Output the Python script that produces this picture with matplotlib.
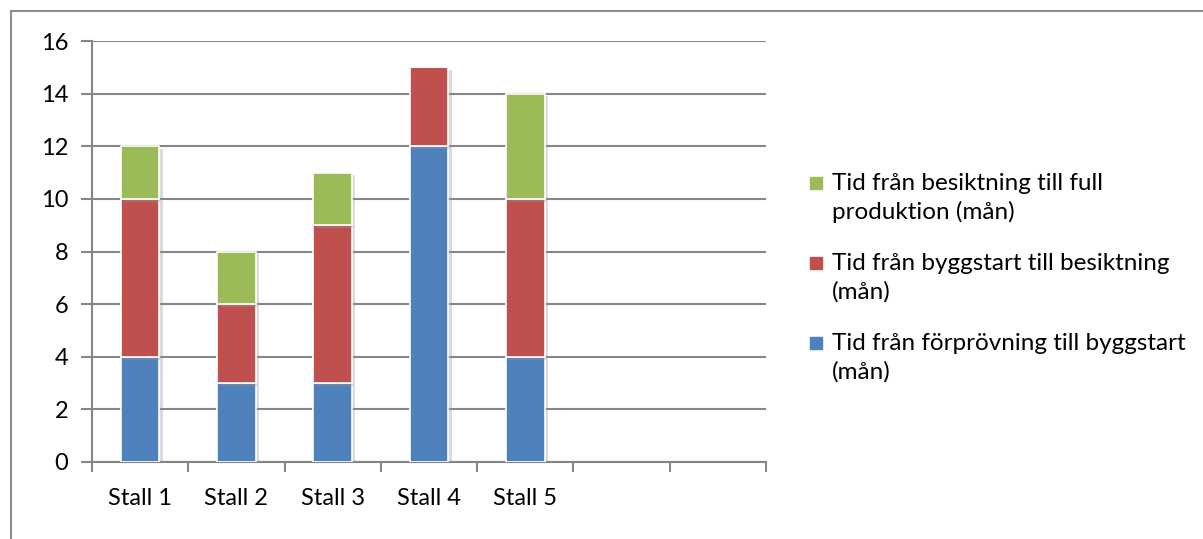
import matplotlib
matplotlib.use('Agg')
import matplotlib.pyplot as plt
import matplotlib.patheffects as pe
from matplotlib.lines import Line2D
from matplotlib.patches import Rectangle
import numpy as np

plt.rcParams['font.family'] = ['Lato', 'DejaVu Sans']

# data
stalls = ['Stall 1', 'Stall 2', 'Stall 3', 'Stall 4', 'Stall 5']
n_slots = 7  # two empty categories after the five stalls
forprovning = [4, 3, 3, 12, 4]
byggstart = [6, 3, 6, 3, 6]
besiktning = [2, 2, 2, 0, 4]

labels = ['Tid från förprövning till byggstart\n(mån)',
          'Tid från byggstart till besiktning\n(mån)',
          'Tid från besiktning till full\nproduktion (mån)']
colors = ['#4F81BD', '#C0504D', '#9BBB59']
grid_col = '#868686'

W, H = 1203, 539
fig = plt.figure(figsize=(W / 100, H / 100), dpi=100)
ax = fig.add_axes([92 / W, 1 - 462 / H, 674 / W, 421 / H])

x = np.arange(len(stalls))
shadow = [pe.withSimplePatchShadow(offset=(2.5, -2), shadow_rgbFace='#999999', alpha=0.35)]
bottom = np.zeros(len(stalls))
for vals, col in zip([forprovning, byggstart, besiktning], colors):
    vals = np.array(vals, dtype=float)
    ax.bar(x, vals, width=0.4, bottom=bottom, color=col, edgecolor='white',
           linewidth=1.2, zorder=3, path_effects=shadow)
    bottom += vals

# axes
ax.set_xlim(-0.5, n_slots - 0.5)
ax.set_ylim(0, 16)
ax.set_yticks(range(0, 17, 2))
ax.yaxis.grid(True, color=grid_col, linewidth=1.5, zorder=0)
ax.set_axisbelow(True)

ax.set_xticks(np.arange(-0.5, n_slots, 1.0))
ax.set_xticklabels([])
ax.set_xticks(x, minor=True)
ax.set_xticklabels(stalls, minor=True)
ax.tick_params(axis='x', which='major', length=7, width=1.5, color=grid_col)
ax.tick_params(axis='x', which='minor', length=0, pad=18.5, labelsize=17)
ax.tick_params(axis='y', length=8, width=1.5, color=grid_col, pad=9, labelsize=17)

for side in ['top', 'right']:
    ax.spines[side].set_visible(False)
for side in ['left', 'bottom']:
    ax.spines[side].set_color(grid_col)
    ax.spines[side].set_linewidth(1.5)

# legend drawn by hand so the swatch sits next to the first text line
# (baseline alignment of a two-line text goes by its last line)
for i, (lab, col) in enumerate(zip(labels[::-1], colors[::-1])):
    base = 192 + 80 * i
    fig.text(832 / W, 1 - (base + 27) / H, lab, va='baseline', ha='left',
             fontsize=17.5, linespacing=1.4)
    fig.add_artist(Rectangle((810 / W, 1 - (base - 3) / H), 12 / W, 12 / H,
                             transform=fig.transFigure, color=col))

# outer frame
fig.add_artist(Line2D([10.5 / W, 10.5 / W], [0, 1 - 11 / H],
                      color='#8c8c8c', linewidth=1.5))
fig.add_artist(Line2D([10.5 / W, 1], [1 - 11 / H, 1 - 11 / H],
                      color='#8c8c8c', linewidth=1.5))

fig.savefig('out.png', dpi=100)
